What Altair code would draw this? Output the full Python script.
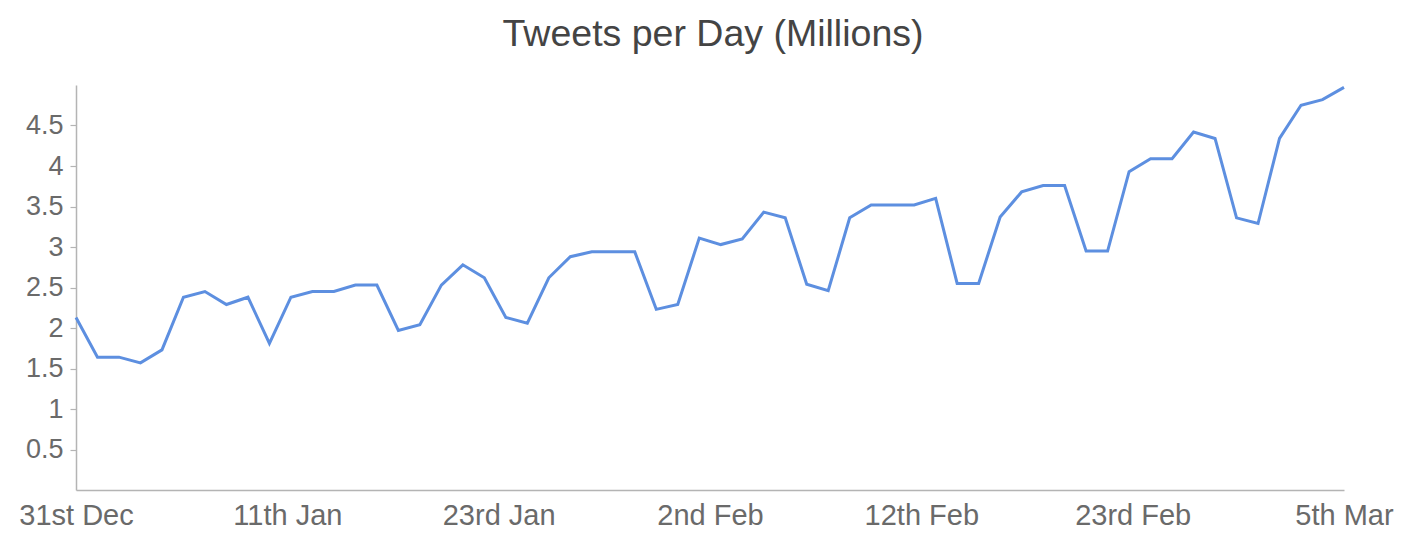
import json
import altair as alt
import pandas as pd

# Tweets per day (millions), one value per day
tweets = [2.13, 1.64, 1.64, 1.57, 1.73, 2.38, 2.45, 2.29, 2.38, 1.81,
          2.38, 2.45, 2.45, 2.53, 2.53, 1.97, 2.04, 2.53, 2.78, 2.62,
          2.13, 2.06, 2.62, 2.88, 2.94, 2.94, 2.94, 2.23, 2.29, 3.11,
          3.03, 3.10, 3.43, 3.36, 2.54, 2.46, 3.36, 3.52, 3.52, 3.52,
          3.60, 2.55, 2.55, 3.37, 3.68, 3.76, 3.76, 2.95, 2.95, 3.93,
          4.09, 4.09, 4.42, 4.34, 3.36, 3.29, 4.34, 4.75, 4.82, 4.97]
day = list(range(len(tweets)))

date_labels = ["31st Dec", "11th Jan", "23rd Jan", "2nd Feb",
               "12th Feb", "23rd Feb", "5th Mar"]
y_ticks = [0.5, 1, 1.5, 2, 2.5, 3, 3.5, 4, 4.5]

df = pd.DataFrame({"day": day, "tweets": tweets})

last = len(tweets) - 1
steps = len(date_labels) - 1
x_ticks = [k * last / steps for k in range(len(date_labels))]
label_expr = f"{json.dumps(date_labels)}[round(datum.value * {steps} / {last})]"

FONT = "Liberation Sans"
AXIS_GREY = "#b4b4b4"
LABEL_GREY = "#6a6a6a"

chart = (
    alt.Chart(df)
    .mark_line(color="#5d8fe0", strokeWidth=3, strokeJoin="miter")
    .encode(
        x=alt.X(
            "day:Q",
            scale=alt.Scale(domain=[0, last], nice=False, zero=False),
            axis=alt.Axis(
                values=x_ticks,
                labelExpr=label_expr,
                title=None,
                grid=False,
                ticks=False,
                tickSize=0,
                labelPadding=11,
                labelFontSize=29,
                labelFont=FONT,
                labelColor=LABEL_GREY,
                labelFlush=False,
                labelOverlap=False,
                domainColor=AXIS_GREY,
                domainWidth=1.5,
            ),
        ),
        y=alt.Y(
            "tweets:Q",
            scale=alt.Scale(domain=[0, 5], nice=False, zero=True),
            axis=alt.Axis(
                values=y_ticks,
                format="~g",
                title=None,
                grid=False,
                tickSize=6,
                tickColor=AXIS_GREY,
                tickWidth=1.2,
                labelPadding=7,
                labelFontSize=27,
                labelFont=FONT,
                labelColor=LABEL_GREY,
                labelFlush=False,
                labelOverlap=False,
                domainColor=AXIS_GREY,
                domainWidth=1.5,
            ),
        ),
    )
    .properties(
        width=1268,
        height=405,
        title=alt.TitleParams(
            "Tweets per Day (Millions)",
            fontSize=37.5,
            font=FONT,
            fontWeight="normal",
            color="#444444",
            anchor="middle",
            baseline="alphabetic",
            offset=0,
            dx=3,
            dy=2,
        ),
        autosize=alt.AutoSizeParams(type="none"),
        padding={"left": 68, "top": 77, "right": 51, "bottom": 46},
        background="white",
    )
    .configure_view(stroke=None)
)

chart.save("out.html", embed_options={"renderer": "svg", "actions": False})
